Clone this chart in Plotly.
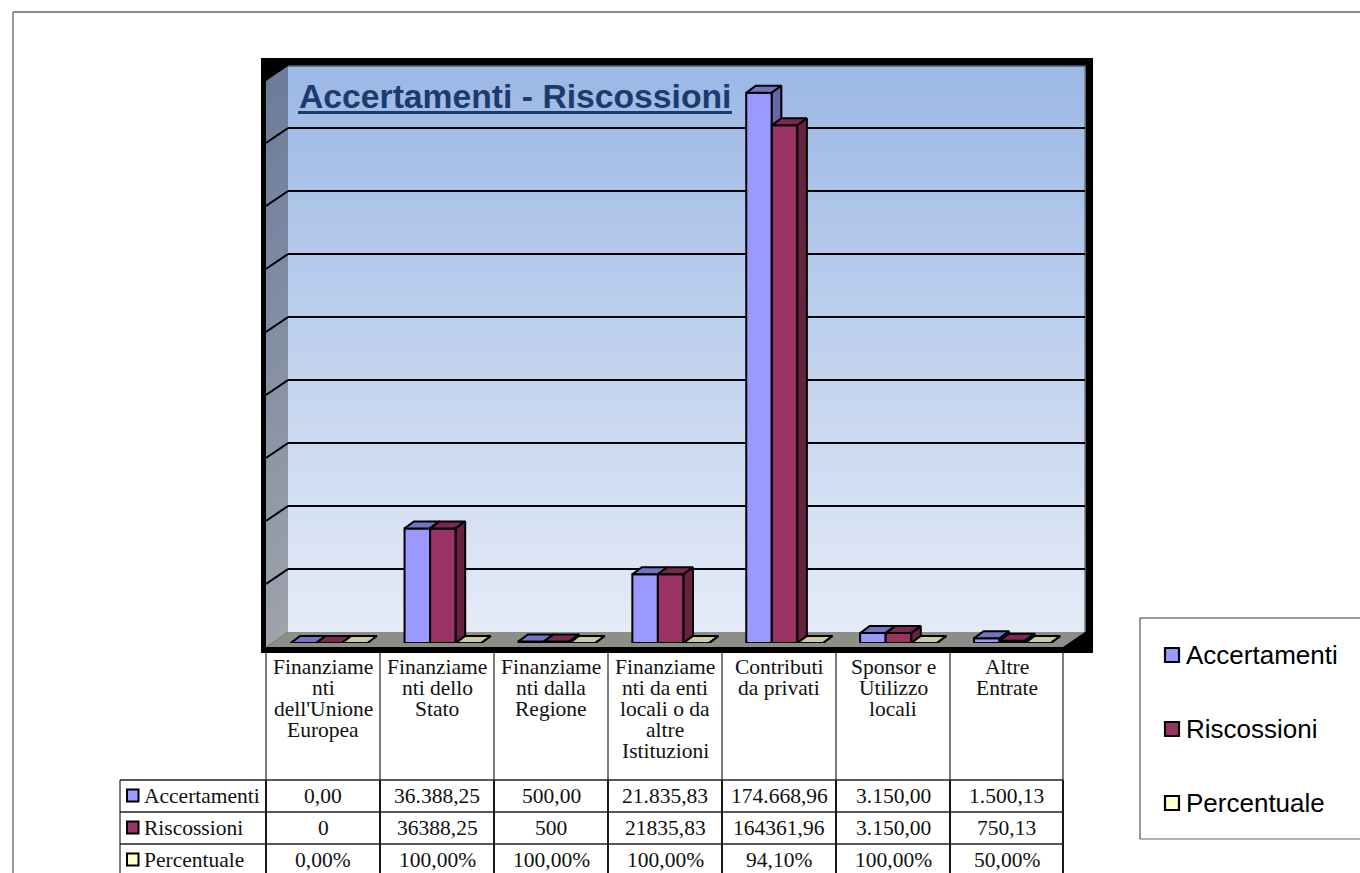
import plotly.graph_objects as go

# ---- data ----
categories = [
    ["Finanziame", "nti", "dell'Unione", "Europea"],
    ["Finanziame", "nti dello", "Stato"],
    ["Finanziame", "nti dalla", "Regione"],
    ["Finanziame", "nti da enti", "locali o da", "altre", "Istituzioni"],
    ["Contributi", "da privati"],
    ["Sponsor e", "Utilizzo", "locali"],
    ["Altre", "Entrate"],
]
series_names = ["Accertamenti", "Riscossioni", "Percentuale"]
accertamenti = [0.00, 36388.25, 500.00, 21835.83, 174668.96, 3150.00, 1500.13]
riscossioni = [0, 36388.25, 500, 21835.83, 164361.96, 3150.00, 750.13]
percentuale = [0.00, 1.00, 1.00, 1.00, 0.941, 1.00, 0.50]
accertamenti_labels = ["0,00", "36.388,25", "500,00", "21.835,83", "174.668,96", "3.150,00", "1.500,13"]
riscossioni_labels = ["0", "36388,25", "500", "21835,83", "164361,96", "3.150,00", "750,13"]
percentuale_labels = ["0,00%", "100,00%", "100,00%", "100,00%", "94,10%", "100,00%", "50,00%"]
grid_values = [20000, 40000, 60000, 80000, 100000, 120000, 140000, 160000]

# ---- styling ----
WIDTH, HEIGHT = 1360, 873
front = ["#9999FF", "#993366", "#FFFFCC"]
top_face = ["#7373C4", "#7A2850", "#CCCC9E"]
side_face = ["#6666A8", "#66223F", "#AAAA88"]
title_color = "#1B3B6F"
serif = "Liberation Serif"
sans = "Liberation Sans"
TABLE_FONT = 21.5


def fx(px):
    return px / WIDTH


def fy(py):
    return 1 - py / HEIGHT


def blend(a, b, t):
    return "rgb(%d,%d,%d)" % tuple(round(a[i] + (b[i] - a[i]) * t) for i in range(3))


shapes = []
annotations = []


def poly(points, color, layer="below", line=None, width=0):
    path = "M" + " L".join(f"{fx(x):.5f},{fy(y):.5f}" for x, y in points) + " Z"
    shapes.append(dict(type="path", xref="paper", yref="paper", path=path, fillcolor=color,
                       line=dict(color=line or color, width=width), layer=layer))


def seg(x0, y0, x1, y1, color="#111111", width=1.5, layer="above"):
    shapes.append(dict(type="line", xref="paper", yref="paper", x0=fx(x0), y0=fy(y0), x1=fx(x1), y1=fy(y1),
                       line=dict(color=color, width=width), layer=layer))


def label(x, y, text, size, family, anchor="center", color="#111111"):
    annotations.append(dict(xref="paper", yref="paper", x=fx(x), y=fy(y), text=text, showarrow=False,
                            xanchor=anchor, yanchor="middle", borderpad=0,
                            font=dict(family=family, size=size, color=color)))


# ---- chart frame: black surround, back wall, side wall, floor ----
WALL_L, WALL_R, WALL_T, WALL_B = 288, 1085, 66, 632
DEPTH_X, DEPTH_Y = 22, 15
poly([(261, 58), (1093, 58), (1093, 653), (261, 653)], "#000000")
bands = 70
wall_top, wall_bottom = (156, 184, 229), (228, 235, 247)
side_top, side_bottom = (108, 125, 155), (158, 163, 172)
for i in range(bands):
    t0 = i / bands
    t1 = (i + 1.6) / bands
    y0 = WALL_T + (WALL_B - WALL_T) * t0
    y1 = min(WALL_B, WALL_T + (WALL_B - WALL_T) * t1)
    poly([(WALL_L, y0), (WALL_R, y0), (WALL_R, y1), (WALL_L, y1)], blend(wall_top, wall_bottom, i / (bands - 1)))
    poly([(WALL_L - DEPTH_X, y0 + DEPTH_Y), (WALL_L, y0), (WALL_L, y1), (WALL_L - DEPTH_X, y1 + DEPTH_Y)],
         blend(side_top, side_bottom, i / (bands - 1)))
poly([(WALL_L - DEPTH_X, WALL_B + DEPTH_Y), (WALL_L, WALL_B), (WALL_R, WALL_B), (WALL_R - DEPTH_X, WALL_B + DEPTH_Y)],
     "#8E8E88")
seg(WALL_L, WALL_T, WALL_R, WALL_T, "#55606E", 1.5, "below")
seg(WALL_R, WALL_T, WALL_R, WALL_B, "#77808C", 1.5, "below")

fig = go.Figure()

# Back wall axes carry the horizontal gridlines.
wall_per_px = 180000 / (WALL_B - 65)
fig.update_layout(
    xaxis=dict(domain=[fx(WALL_L), fx(WALL_R)], range=[0, 1], visible=False, fixedrange=True),
    yaxis=dict(domain=[fy(WALL_B), fy(65)], range=[0, 180000], visible=False, fixedrange=True),
)
for v in grid_values:
    fig.add_trace(go.Scatter(
        x=[0, 1], y=[v, v], mode="lines", line=dict(color="#000000", width=2),
        showlegend=False, hoverinfo="skip", xaxis="x", yaxis="y"))

# Side wall axes continue each gridline diagonally toward the viewer.
fig.update_layout(
    xaxis2=dict(domain=[fx(WALL_L - DEPTH_X), fx(WALL_L)], range=[-1, 0], anchor="y2", visible=False,
                fixedrange=True),
    yaxis2=dict(domain=[fy(WALL_B + DEPTH_Y), fy(65)], range=[-DEPTH_Y * wall_per_px, 180000], anchor="x2",
                visible=False, fixedrange=True),
)
for v in grid_values:
    fig.add_trace(go.Scatter(
        x=[0, -1], y=[v, v - DEPTH_Y * wall_per_px], mode="lines",
        line=dict(color="#000000", width=2), showlegend=False, hoverinfo="skip",
        xaxis="x2", yaxis="y2"))

# Bar plane: one subplot per series so each later series sits over the earlier one's side face.
CAT_0, CAT_STEP = 329, 113.9
BASE_Y, TOP_Y = 643, 58
PLANE_L, PLANE_R = 262, 1092
x_range = [(PLANE_L - CAT_0) / CAT_STEP, (PLANE_R - CAT_0) / CAT_STEP]
units_per_px = 20000 / 63
y_range = [0, (BASE_Y - TOP_Y) * units_per_px]
bar_w = 0.2245
skew_x = 9.5 / CAT_STEP
skew_y = 7 * units_per_px
positions = list(range(len(categories)))

for s, values in enumerate([accertamenti, riscossioni, percentuale]):
    n = s + 3
    fig.update_layout({
        f"xaxis{n}": dict(domain=[fx(PLANE_L), fx(PLANE_R)], range=x_range, anchor=f"y{n}", visible=False,
                          fixedrange=True),
        f"yaxis{n}": dict(domain=[fy(BASE_Y), fy(TOP_Y)], range=y_range, anchor=f"x{n}", visible=False,
                          fixedrange=True),
    })
    offset = -1.5 * bar_w + s * bar_w
    fig.add_trace(go.Bar(
        x=positions, y=values, width=bar_w, offset=offset, name=series_names[s],
        marker=dict(color=front[s], line=dict(color="#000000", width=2)),
        showlegend=False, xaxis=f"x{n}", yaxis=f"y{n}"))
    for i, v in zip(positions, values):
        x0 = i + offset
        x1 = x0 + bar_w
        fig.add_trace(go.Scatter(
            x=[x0, x0 + skew_x, x1 + skew_x, x1, x0], y=[v, v + skew_y, v + skew_y, v, v],
            mode="lines", fill="toself", fillcolor=top_face[s], line=dict(color="#000000", width=2),
            showlegend=False, hoverinfo="skip", xaxis=f"x{n}", yaxis=f"y{n}"))
        if v > 0:
            fig.add_trace(go.Scatter(
                x=[x1, x1 + skew_x, x1 + skew_x, x1, x1], y=[0, skew_y, v + skew_y, v, 0],
                mode="lines", fill="toself", fillcolor=side_face[s], line=dict(color="#000000", width=2),
                showlegend=False, hoverinfo="skip", xaxis=f"x{n}", yaxis=f"y{n}"))

# ---- title ----
label(298, 96, "<b>Accertamenti - Riscossioni</b>", 33.7, sans, "left", title_color)
seg(298, 112.5, 732, 112.5, title_color, 3)

# ---- data table below the chart ----
col_edges = [266, 380, 494, 608, 722, 836, 950, 1063]
row_edges = [780, 812, 844, 876]
LABEL_L = 120
HEAD_LINE = 21
HEAD_Y0 = 667
for x in col_edges:
    seg(x, 653, x, 780, "#222222", 1.2)
    seg(x, 780, x, HEIGHT, "#000000", 1.8)
seg(LABEL_L, 780, LABEL_L, HEIGHT, "#222222", 1.2)
for y in row_edges:
    seg(LABEL_L, y, col_edges[-1], y, "#222222", 1.5)

for c, lines in enumerate(categories):
    cx = (col_edges[c] + col_edges[c + 1]) / 2
    for j, line in enumerate(lines):
        label(cx, HEAD_Y0 + j * HEAD_LINE, line, TABLE_FONT, serif)

row_labels = [accertamenti_labels, riscossioni_labels, percentuale_labels]
for r, cells in enumerate(row_labels):
    cy = (row_edges[r] + row_edges[r + 1]) / 2
    label(143, cy, series_names[r], TABLE_FONT, serif, "left")
    poly([(127, cy - 6.5), (138.5, cy - 6.5), (138.5, cy + 5.5), (127, cy + 5.5)], front[r], "above", "#000000", 2)
    for c, text in enumerate(cells):
        label((col_edges[c] + col_edges[c + 1]) / 2, cy, text, TABLE_FONT, serif)

# ---- legend box ----
seg(1140, 618, 1140, 839, "#555555", 1.2)
seg(1140, 618, WIDTH, 618, "#333333", 1.2)
seg(1140, 839, WIDTH, 839, "#666666", 1.2)
for name, color, cy in zip(series_names, front, [655, 729, 803]):
    poly([(1165, cy - 7), (1179, cy - 7), (1179, cy + 7), (1165, cy + 7)], color, "above", "#000000", 2.2)
    label(1185, cy, name, 26, sans, "left", "#000000")

# ---- page edge ----
seg(13, 12, WIDTH, 12, "#666666", 1.5)
seg(13, 12, 13, HEIGHT, "#999999", 2)

fig.update_layout(
    width=WIDTH, height=HEIGHT, margin=dict(l=0, r=0, t=0, b=0), autosize=False,
    paper_bgcolor="#FFFFFF", plot_bgcolor="rgba(0,0,0,0)",
    shapes=shapes, annotations=annotations, showlegend=False,
)
fig.write_html("out.html", config={"displayModeBar": False})
